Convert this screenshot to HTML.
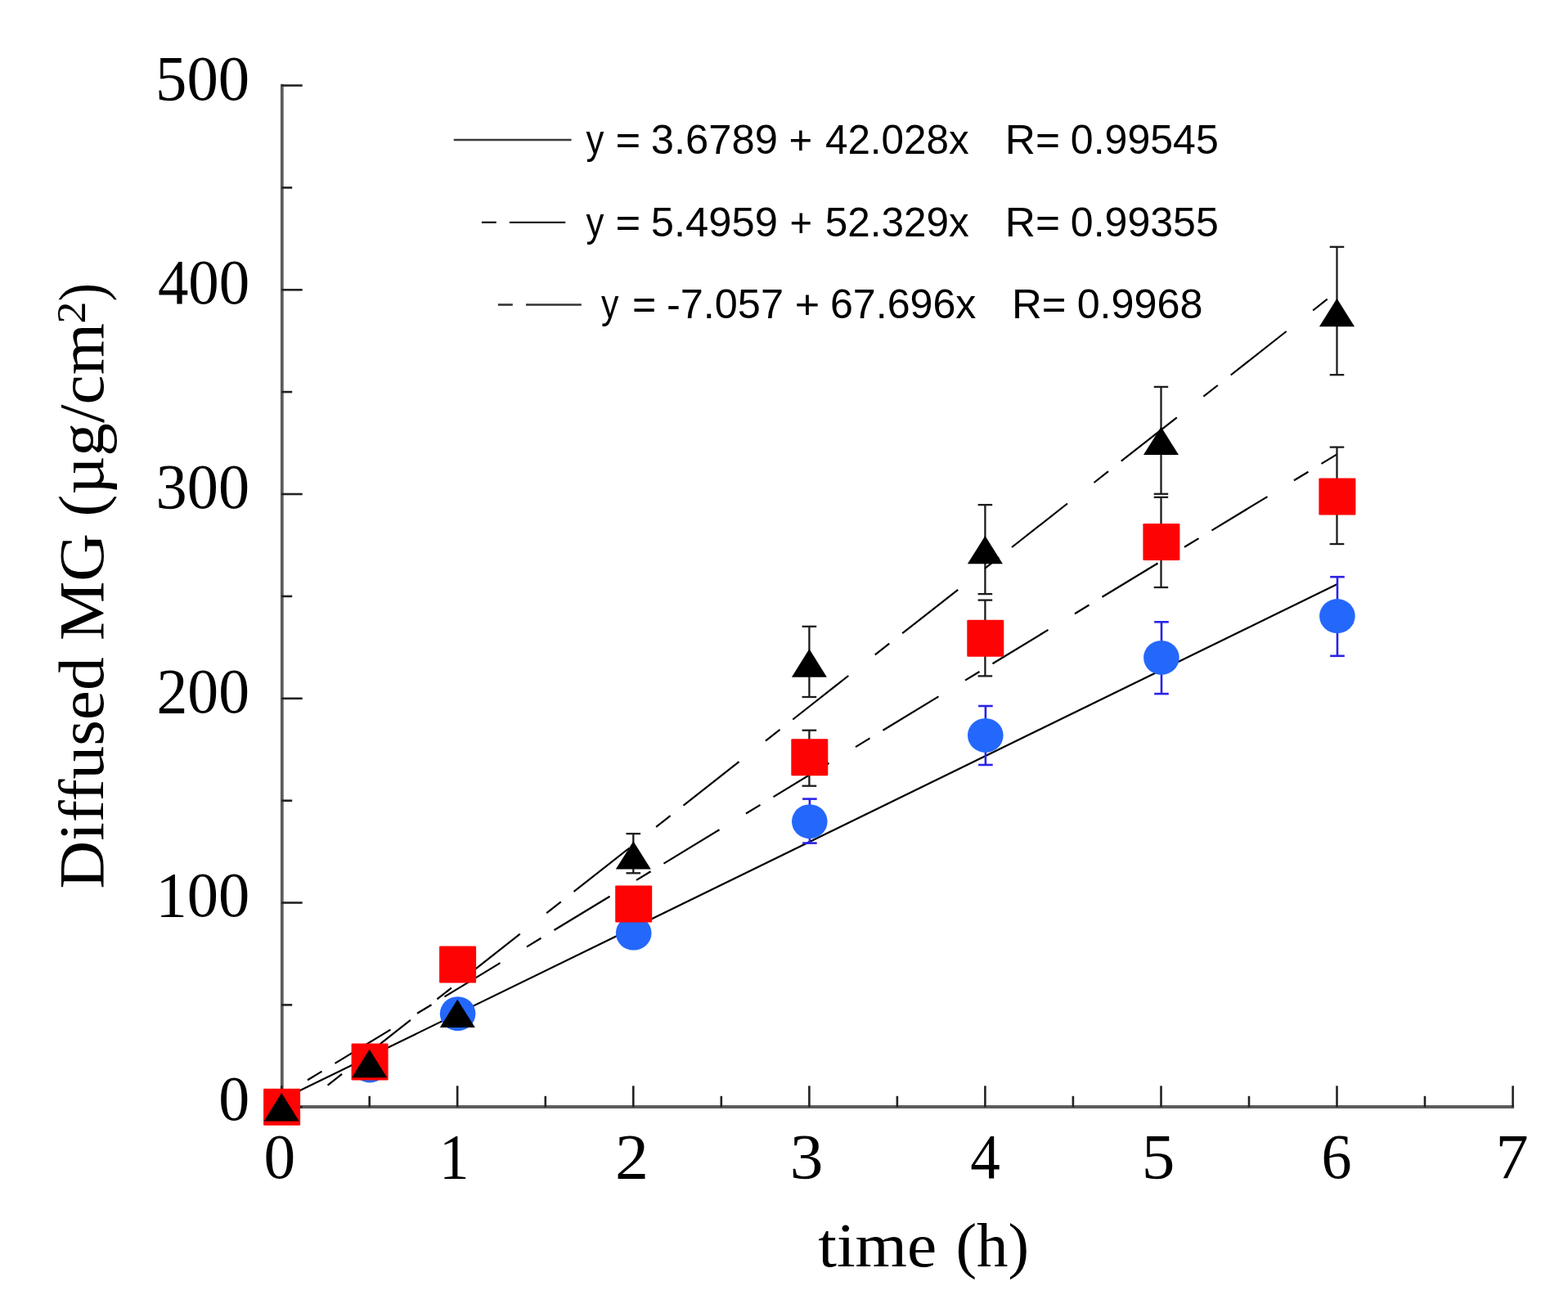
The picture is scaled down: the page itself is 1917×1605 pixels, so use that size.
<!DOCTYPE html><html><head><meta charset="utf-8"><title>Diffused MG vs time</title><style>html,body{margin:0;padding:0;background:#fff;overflow:hidden;}svg{display:block;}</style></head><body>
<svg width="1917" height="1605" viewBox="0 0 1917 1605">
<rect width="1917" height="1605" fill="#ffffff"/>
<g id="fits">
<line x1="344.2" y1="1344.1" x2="1634.5" y2="714.3" stroke="#000" stroke-width="2.2"/>
<line x1="376.0" y1="1320.2" x2="393.5" y2="1309.6" stroke="#000" stroke-width="2.2"/>
<line x1="409.5" y1="1299.9" x2="477.5" y2="1258.6" stroke="#000" stroke-width="2.2"/>
<line x1="510.0" y1="1238.8" x2="527.5" y2="1228.2" stroke="#000" stroke-width="2.2"/>
<line x1="543.5" y1="1218.4" x2="611.5" y2="1177.1" stroke="#000" stroke-width="2.2"/>
<line x1="644.0" y1="1157.4" x2="661.5" y2="1146.7" stroke="#000" stroke-width="2.2"/>
<line x1="677.5" y1="1137.0" x2="745.5" y2="1095.7" stroke="#000" stroke-width="2.2"/>
<line x1="778.0" y1="1075.9" x2="795.5" y2="1065.3" stroke="#000" stroke-width="2.2"/>
<line x1="811.5" y1="1055.6" x2="879.5" y2="1014.2" stroke="#000" stroke-width="2.2"/>
<line x1="912.0" y1="994.5" x2="929.5" y2="983.9" stroke="#000" stroke-width="2.2"/>
<line x1="945.5" y1="974.1" x2="1013.5" y2="932.8" stroke="#000" stroke-width="2.2"/>
<line x1="1046.0" y1="913.1" x2="1063.5" y2="902.4" stroke="#000" stroke-width="2.2"/>
<line x1="1079.5" y1="892.7" x2="1147.5" y2="851.4" stroke="#000" stroke-width="2.2"/>
<line x1="1180.0" y1="831.6" x2="1197.5" y2="821.0" stroke="#000" stroke-width="2.2"/>
<line x1="1213.5" y1="811.3" x2="1281.5" y2="769.9" stroke="#000" stroke-width="2.2"/>
<line x1="1314.0" y1="750.2" x2="1331.5" y2="739.5" stroke="#000" stroke-width="2.2"/>
<line x1="1347.5" y1="729.8" x2="1415.5" y2="688.5" stroke="#000" stroke-width="2.2"/>
<line x1="1448.0" y1="668.7" x2="1465.5" y2="658.1" stroke="#000" stroke-width="2.2"/>
<line x1="1481.5" y1="648.4" x2="1549.5" y2="607.1" stroke="#000" stroke-width="2.2"/>
<line x1="1582.0" y1="587.3" x2="1599.5" y2="576.7" stroke="#000" stroke-width="2.2"/>
<line x1="1615.5" y1="566.9" x2="1634.5" y2="555.4" stroke="#000" stroke-width="2.2"/>
<line x1="400.6" y1="1326.6" x2="418.1" y2="1312.9" stroke="#000" stroke-width="2.2"/>
<line x1="433.9" y1="1300.4" x2="501.9" y2="1246.9" stroke="#000" stroke-width="2.2"/>
<line x1="534.4" y1="1221.4" x2="551.9" y2="1207.6" stroke="#000" stroke-width="2.2"/>
<line x1="567.8" y1="1195.2" x2="635.8" y2="1141.7" stroke="#000" stroke-width="2.2"/>
<line x1="668.2" y1="1116.1" x2="685.8" y2="1102.4" stroke="#000" stroke-width="2.2"/>
<line x1="701.6" y1="1089.9" x2="769.6" y2="1036.5" stroke="#000" stroke-width="2.2"/>
<line x1="802.1" y1="1010.9" x2="819.6" y2="997.2" stroke="#000" stroke-width="2.2"/>
<line x1="835.5" y1="984.7" x2="903.5" y2="931.2" stroke="#000" stroke-width="2.2"/>
<line x1="936.0" y1="905.7" x2="953.5" y2="891.9" stroke="#000" stroke-width="2.2"/>
<line x1="969.3" y1="879.5" x2="1037.3" y2="826.0" stroke="#000" stroke-width="2.2"/>
<line x1="1069.8" y1="800.4" x2="1087.3" y2="786.7" stroke="#000" stroke-width="2.2"/>
<line x1="1103.2" y1="774.2" x2="1171.2" y2="720.8" stroke="#000" stroke-width="2.2"/>
<line x1="1203.7" y1="695.2" x2="1221.2" y2="681.4" stroke="#000" stroke-width="2.2"/>
<line x1="1237.0" y1="669.0" x2="1305.0" y2="615.5" stroke="#000" stroke-width="2.2"/>
<line x1="1337.5" y1="590.0" x2="1355.0" y2="576.2" stroke="#000" stroke-width="2.2"/>
<line x1="1370.8" y1="563.7" x2="1438.8" y2="510.3" stroke="#000" stroke-width="2.2"/>
<line x1="1471.3" y1="484.7" x2="1488.8" y2="471.0" stroke="#000" stroke-width="2.2"/>
<line x1="1504.7" y1="458.5" x2="1572.7" y2="405.0" stroke="#000" stroke-width="2.2"/>
<line x1="1605.2" y1="379.5" x2="1622.7" y2="365.7" stroke="#000" stroke-width="2.2"/>
</g>
<g id="axes">
<line x1="344.2" y1="1353.0" x2="1851.1" y2="1353.0" stroke="#5c5c5c" stroke-width="3.8"/>
<line x1="344.8" y1="1354.8" x2="344.8" y2="102.8" stroke="#5c5c5c" stroke-width="3.8"/>
<line x1="344.2" y1="1353.3" x2="369.7" y2="1353.3" stroke="#222222" stroke-width="2.6"/>
<line x1="344.2" y1="1228.4" x2="357.2" y2="1228.4" stroke="#222222" stroke-width="2.6"/>
<line x1="344.2" y1="1103.5" x2="369.7" y2="1103.5" stroke="#222222" stroke-width="2.6"/>
<line x1="344.2" y1="978.7" x2="357.2" y2="978.7" stroke="#222222" stroke-width="2.6"/>
<line x1="344.2" y1="853.8" x2="369.7" y2="853.8" stroke="#222222" stroke-width="2.6"/>
<line x1="344.2" y1="728.9" x2="357.2" y2="728.9" stroke="#222222" stroke-width="2.6"/>
<line x1="344.2" y1="604.0" x2="369.7" y2="604.0" stroke="#222222" stroke-width="2.6"/>
<line x1="344.2" y1="479.1" x2="357.2" y2="479.1" stroke="#222222" stroke-width="2.6"/>
<line x1="344.2" y1="354.3" x2="369.7" y2="354.3" stroke="#222222" stroke-width="2.6"/>
<line x1="344.2" y1="229.4" x2="357.2" y2="229.4" stroke="#222222" stroke-width="2.6"/>
<line x1="344.2" y1="104.5" x2="369.7" y2="104.5" stroke="#222222" stroke-width="2.6"/>
<line x1="344.2" y1="1353.3" x2="344.2" y2="1327.3" stroke="#222222" stroke-width="2.6"/>
<line x1="451.7" y1="1353.3" x2="451.7" y2="1339.8" stroke="#222222" stroke-width="2.6"/>
<line x1="559.2" y1="1353.3" x2="559.2" y2="1327.3" stroke="#222222" stroke-width="2.6"/>
<line x1="666.8" y1="1353.3" x2="666.8" y2="1339.8" stroke="#222222" stroke-width="2.6"/>
<line x1="774.3" y1="1353.3" x2="774.3" y2="1327.3" stroke="#222222" stroke-width="2.6"/>
<line x1="881.8" y1="1353.3" x2="881.8" y2="1339.8" stroke="#222222" stroke-width="2.6"/>
<line x1="989.4" y1="1353.3" x2="989.4" y2="1327.3" stroke="#222222" stroke-width="2.6"/>
<line x1="1096.9" y1="1353.3" x2="1096.9" y2="1339.8" stroke="#222222" stroke-width="2.6"/>
<line x1="1204.4" y1="1353.3" x2="1204.4" y2="1327.3" stroke="#222222" stroke-width="2.6"/>
<line x1="1311.9" y1="1353.3" x2="1311.9" y2="1339.8" stroke="#222222" stroke-width="2.6"/>
<line x1="1419.5" y1="1353.3" x2="1419.5" y2="1327.3" stroke="#222222" stroke-width="2.6"/>
<line x1="1527.0" y1="1353.3" x2="1527.0" y2="1339.8" stroke="#222222" stroke-width="2.6"/>
<line x1="1634.5" y1="1353.3" x2="1634.5" y2="1327.3" stroke="#222222" stroke-width="2.6"/>
<line x1="1742.0" y1="1353.3" x2="1742.0" y2="1339.8" stroke="#222222" stroke-width="2.6"/>
<line x1="1849.6" y1="1353.3" x2="1849.6" y2="1327.3" stroke="#222222" stroke-width="2.6"/>
</g>
<g id="data">
<line x1="989.9" y1="976.6" x2="989.9" y2="1030.6" stroke="#2a22e6" stroke-width="2.6"/><line x1="981.1" y1="976.6" x2="998.7" y2="976.6" stroke="#2a22e6" stroke-width="2.6"/><line x1="981.1" y1="1030.6" x2="998.7" y2="1030.6" stroke="#2a22e6" stroke-width="2.6"/>
<line x1="1204.9" y1="863.0" x2="1204.9" y2="935.0" stroke="#2a22e6" stroke-width="2.6"/><line x1="1196.1" y1="863.0" x2="1213.7" y2="863.0" stroke="#2a22e6" stroke-width="2.6"/><line x1="1196.1" y1="935.0" x2="1213.7" y2="935.0" stroke="#2a22e6" stroke-width="2.6"/>
<line x1="1420.0" y1="760.3" x2="1420.0" y2="848.1" stroke="#2a22e6" stroke-width="2.6"/><line x1="1411.2" y1="760.3" x2="1428.8" y2="760.3" stroke="#2a22e6" stroke-width="2.6"/><line x1="1411.2" y1="848.1" x2="1428.8" y2="848.1" stroke="#2a22e6" stroke-width="2.6"/>
<line x1="1635.0" y1="705.2" x2="1635.0" y2="801.8" stroke="#2a22e6" stroke-width="2.6"/><line x1="1626.2" y1="705.2" x2="1643.8" y2="705.2" stroke="#2a22e6" stroke-width="2.6"/><line x1="1626.2" y1="801.8" x2="1643.8" y2="801.8" stroke="#2a22e6" stroke-width="2.6"/>
<ellipse cx="344.6" cy="1353.3" rx="21.8" ry="21.0" fill="#2468fb"/>
<ellipse cx="452.1" cy="1302.4" rx="21.8" ry="21.0" fill="#2468fb"/>
<ellipse cx="559.6" cy="1239.2" rx="21.8" ry="21.0" fill="#2468fb"/>
<ellipse cx="774.7" cy="1140.6" rx="21.8" ry="21.0" fill="#2468fb"/>
<ellipse cx="989.8" cy="1004.2" rx="21.8" ry="21.0" fill="#2468fb"/>
<ellipse cx="1204.8" cy="898.9" rx="21.8" ry="21.0" fill="#2468fb"/>
<ellipse cx="1419.9" cy="803.9" rx="21.8" ry="21.0" fill="#2468fb"/>
<ellipse cx="1634.9" cy="753.1" rx="21.8" ry="21.0" fill="#2468fb"/>
<line x1="989.4" y1="892.7" x2="989.4" y2="960.7" stroke="#1c1c1c" stroke-width="2.3"/><line x1="980.6" y1="892.7" x2="998.2" y2="892.7" stroke="#1c1c1c" stroke-width="2.3"/><line x1="980.6" y1="960.7" x2="998.2" y2="960.7" stroke="#1c1c1c" stroke-width="2.3"/>
<line x1="1204.4" y1="733.6" x2="1204.4" y2="826.4" stroke="#1c1c1c" stroke-width="2.3"/><line x1="1195.6" y1="733.6" x2="1213.2" y2="733.6" stroke="#1c1c1c" stroke-width="2.3"/><line x1="1195.6" y1="826.4" x2="1213.2" y2="826.4" stroke="#1c1c1c" stroke-width="2.3"/>
<line x1="1419.5" y1="607.8" x2="1419.5" y2="718.0" stroke="#1c1c1c" stroke-width="2.3"/><line x1="1410.7" y1="607.8" x2="1428.2" y2="607.8" stroke="#1c1c1c" stroke-width="2.3"/><line x1="1410.7" y1="718.0" x2="1428.2" y2="718.0" stroke="#1c1c1c" stroke-width="2.3"/>
<line x1="1634.5" y1="546.6" x2="1634.5" y2="665.0" stroke="#1c1c1c" stroke-width="2.3"/><line x1="1625.7" y1="546.6" x2="1643.3" y2="546.6" stroke="#1c1c1c" stroke-width="2.3"/><line x1="1625.7" y1="665.0" x2="1643.3" y2="665.0" stroke="#1c1c1c" stroke-width="2.3"/>
<rect x="322.1" y="1330.8" width="45" height="45" rx="1.2" fill="#fd0303"/>
<rect x="429.6" y="1275.5" width="45" height="45" rx="1.2" fill="#fd0303"/>
<rect x="537.1" y="1156.5" width="45" height="45" rx="1.2" fill="#fd0303"/>
<rect x="752.2" y="1082.4" width="45" height="45" rx="1.2" fill="#fd0303"/>
<rect x="967.3" y="903.2" width="45" height="45" rx="1.2" fill="#fd0303"/>
<rect x="1182.3" y="757.7" width="45" height="45" rx="1.2" fill="#fd0303"/>
<rect x="1397.4" y="640.0" width="45" height="45" rx="1.2" fill="#fd0303"/>
<rect x="1612.4" y="584.4" width="45" height="45" rx="1.2" fill="#fd0303"/>
<line x1="774.3" y1="1019.1" x2="774.3" y2="1067.3" stroke="#1c1c1c" stroke-width="2.3"/><line x1="765.5" y1="1019.1" x2="783.1" y2="1019.1" stroke="#1c1c1c" stroke-width="2.3"/><line x1="765.5" y1="1067.3" x2="783.1" y2="1067.3" stroke="#1c1c1c" stroke-width="2.3"/>
<line x1="989.4" y1="765.8" x2="989.4" y2="852.0" stroke="#1c1c1c" stroke-width="2.3"/><line x1="980.6" y1="765.8" x2="998.2" y2="765.8" stroke="#1c1c1c" stroke-width="2.3"/><line x1="980.6" y1="852.0" x2="998.2" y2="852.0" stroke="#1c1c1c" stroke-width="2.3"/>
<line x1="1204.4" y1="617.1" x2="1204.4" y2="726.1" stroke="#1c1c1c" stroke-width="2.3"/><line x1="1195.6" y1="617.1" x2="1213.2" y2="617.1" stroke="#1c1c1c" stroke-width="2.3"/><line x1="1195.6" y1="726.1" x2="1213.2" y2="726.1" stroke="#1c1c1c" stroke-width="2.3"/>
<line x1="1419.5" y1="472.9" x2="1419.5" y2="603.8" stroke="#1c1c1c" stroke-width="2.3"/><line x1="1410.7" y1="472.9" x2="1428.2" y2="472.9" stroke="#1c1c1c" stroke-width="2.3"/><line x1="1410.7" y1="603.8" x2="1428.2" y2="603.8" stroke="#1c1c1c" stroke-width="2.3"/>
<line x1="1634.5" y1="301.8" x2="1634.5" y2="458.2" stroke="#1c1c1c" stroke-width="2.3"/><line x1="1625.7" y1="301.8" x2="1643.3" y2="301.8" stroke="#1c1c1c" stroke-width="2.3"/><line x1="1625.7" y1="458.2" x2="1643.3" y2="458.2" stroke="#1c1c1c" stroke-width="2.3"/>
<polygon points="344.2,1336.0 365.7,1370.4 322.7,1370.4" fill="#000"/>
<polygon points="451.7,1282.8 473.2,1317.2 430.2,1317.2" fill="#000"/>
<polygon points="559.2,1221.7 580.8,1256.1 537.8,1256.1" fill="#000"/>
<polygon points="774.3,1028.2 795.8,1062.6 752.8,1062.6" fill="#000"/>
<polygon points="989.4,793.3 1010.9,827.7 967.9,827.7" fill="#000"/>
<polygon points="1204.4,654.9 1225.9,689.3 1182.9,689.3" fill="#000"/>
<polygon points="1419.5,521.7 1441.0,556.1 1398.0,556.1" fill="#000"/>
<polygon points="1634.5,364.8 1656.0,399.2 1613.0,399.2" fill="#000"/>
</g>
<g id="legend">
<line x1="554.7" y1="171.0" x2="698.6" y2="171.0" stroke="#3a3a3a" stroke-width="2.6"/>
<line x1="588.9" y1="271.8" x2="606.8" y2="271.8" stroke="#1c1c1c" stroke-width="2.3"/>
<line x1="622.9" y1="271.8" x2="691.3" y2="271.8" stroke="#1c1c1c" stroke-width="2.3"/>
<line x1="608.9" y1="372.5" x2="626.8" y2="372.5" stroke="#333" stroke-width="2.6"/>
<line x1="643.0" y1="372.5" x2="710.8" y2="372.5" stroke="#333" stroke-width="2.6"/>
</g>
<g id="labels" fill="#000">
<text x="190.10" y="122.10" font-family="'Liberation Serif', serif" font-size="79" textLength="115.09" lengthAdjust="spacingAndGlyphs">500</text>
<text x="192.93" y="371.36" font-family="'Liberation Serif', serif" font-size="79" textLength="112.31" lengthAdjust="spacingAndGlyphs">400</text>
<text x="190.62" y="620.72" font-family="'Liberation Serif', serif" font-size="79" textLength="114.46" lengthAdjust="spacingAndGlyphs">300</text>
<text x="191.53" y="871.08" font-family="'Liberation Serif', serif" font-size="79" textLength="113.53" lengthAdjust="spacingAndGlyphs">200</text>
<text x="190.52" y="1120.04" font-family="'Liberation Serif', serif" font-size="79" textLength="114.77" lengthAdjust="spacingAndGlyphs">100</text>
<text x="267.23" y="1369.20" font-family="'Liberation Serif', serif" font-size="79" textLength="37.94" lengthAdjust="spacingAndGlyphs">0</text>
<text x="322.58" y="1439.60" font-family="'Liberation Serif', serif" font-size="79" textLength="38.74" lengthAdjust="spacingAndGlyphs">0</text>
<text x="536.99" y="1439.60" font-family="'Liberation Serif', serif" font-size="79" textLength="36.53" lengthAdjust="spacingAndGlyphs">1</text>
<text x="752.04" y="1439.60" font-family="'Liberation Serif', serif" font-size="79" textLength="41.01" lengthAdjust="spacingAndGlyphs">2</text>
<text x="965.79" y="1439.60" font-family="'Liberation Serif', serif" font-size="79" textLength="40.65" lengthAdjust="spacingAndGlyphs">3</text>
<text x="1186.16" y="1439.60" font-family="'Liberation Serif', serif" font-size="79" textLength="36.59" lengthAdjust="spacingAndGlyphs">4</text>
<text x="1395.69" y="1439.60" font-family="'Liberation Serif', serif" font-size="79" textLength="40.65" lengthAdjust="spacingAndGlyphs">5</text>
<text x="1615.58" y="1439.60" font-family="'Liberation Serif', serif" font-size="79" textLength="37.08" lengthAdjust="spacingAndGlyphs">6</text>
<text x="1828.58" y="1439.60" font-family="'Liberation Serif', serif" font-size="79" textLength="40.18" lengthAdjust="spacingAndGlyphs">7</text>
<text font-family="'Liberation Serif', serif" font-size="75.5"><tspan x="1000.30" y="1548.20" textLength="144.99" lengthAdjust="spacingAndGlyphs">time</tspan> <tspan x="1168.50" y="1548.20" textLength="89.68" lengthAdjust="spacingAndGlyphs">(h)</tspan></text>
<text transform="translate(126.10,0) rotate(-90)" font-family="'Liberation Serif', serif" font-size="79"><tspan x="-1086.57" y="0.00" textLength="691.56" lengthAdjust="spacingAndGlyphs">Diffused MG (µg/cm</tspan><tspan x="-395.58" y="-21.90" font-size="51" textLength="26.90" lengthAdjust="spacingAndGlyphs">2</tspan><tspan x="-368.62" y="0.00" textLength="22.57" lengthAdjust="spacingAndGlyphs">)</tspan></text>
<text font-family="'Liberation Sans', Arial, sans-serif" font-size="50.5"><tspan x="716.40" y="188.00" textLength="21.90" lengthAdjust="spacingAndGlyphs">y</tspan> <tspan x="752.63" y="188.00" textLength="30.72" lengthAdjust="spacingAndGlyphs">=</tspan> <tspan x="795.71" y="188.00" textLength="155.14" lengthAdjust="spacingAndGlyphs">3.6789</tspan> <tspan x="964.49" y="188.00" textLength="28.73" lengthAdjust="spacingAndGlyphs">+</tspan> <tspan x="1008.93" y="188.00" textLength="175.77" lengthAdjust="spacingAndGlyphs">42.028x</tspan> <tspan x="1228.88" y="188.00" textLength="67.23" lengthAdjust="spacingAndGlyphs">R=</tspan> <tspan x="1308.84" y="188.00" textLength="180.89" lengthAdjust="spacingAndGlyphs">0.99545</tspan></text>
<text font-family="'Liberation Sans', Arial, sans-serif" font-size="50.5"><tspan x="716.40" y="289.00" textLength="21.90" lengthAdjust="spacingAndGlyphs">y</tspan> <tspan x="752.63" y="289.00" textLength="30.72" lengthAdjust="spacingAndGlyphs">=</tspan> <tspan x="795.71" y="289.00" textLength="155.14" lengthAdjust="spacingAndGlyphs">5.4959</tspan> <tspan x="965.59" y="289.00" textLength="27.56" lengthAdjust="spacingAndGlyphs">+</tspan> <tspan x="1008.86" y="289.00" textLength="175.84" lengthAdjust="spacingAndGlyphs">52.329x</tspan> <tspan x="1228.88" y="289.00" textLength="67.23" lengthAdjust="spacingAndGlyphs">R=</tspan> <tspan x="1308.84" y="289.00" textLength="180.89" lengthAdjust="spacingAndGlyphs">0.99355</tspan></text>
<text font-family="'Liberation Sans', Arial, sans-serif" font-size="50.5"><tspan x="735.10" y="389.20" textLength="21.40" lengthAdjust="spacingAndGlyphs">y</tspan> <tspan x="772.96" y="389.20" textLength="29.20" lengthAdjust="spacingAndGlyphs">=</tspan> <tspan x="814.92" y="389.20" textLength="143.12" lengthAdjust="spacingAndGlyphs">-7.057</tspan> <tspan x="971.85" y="389.20" textLength="30.48" lengthAdjust="spacingAndGlyphs">+</tspan> <tspan x="1014.95" y="389.20" textLength="178.45" lengthAdjust="spacingAndGlyphs">67.696x</tspan> <tspan x="1237.02" y="389.20" textLength="66.57" lengthAdjust="spacingAndGlyphs">R=</tspan> <tspan x="1316.63" y="389.20" textLength="153.81" lengthAdjust="spacingAndGlyphs">0.9968</tspan></text>
</g>
</svg></body></html>
